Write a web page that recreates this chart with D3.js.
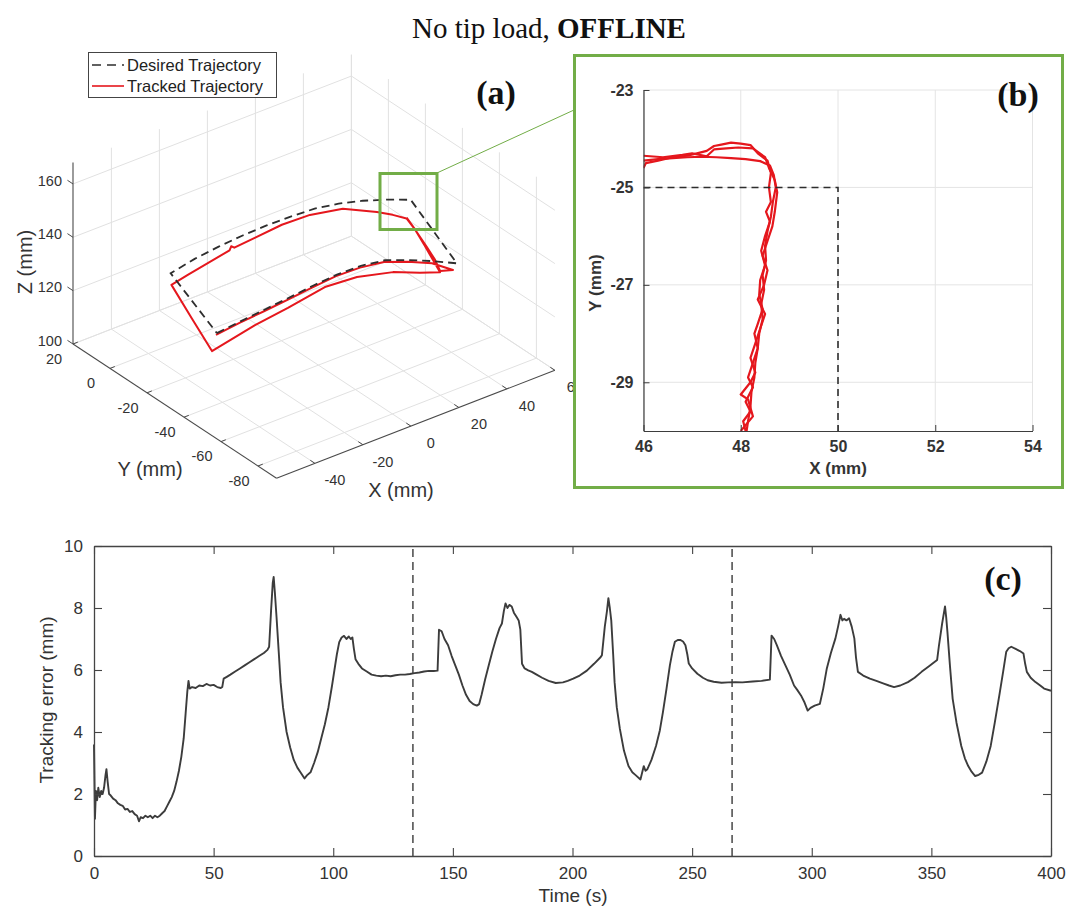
<!DOCTYPE html>
<html>
<head>
<meta charset="utf-8">
<script src="https://cdn.jsdelivr.net/npm/d3@7"></script>
<style>
  body { margin: 0; background: #ffffff; }
  svg { display: block; }
  text { font-family: "Liberation Sans", Arial, Helvetica, sans-serif; }
  .serif { font-family: "Liberation Serif", "Times New Roman", serif; }
</style>
</head>
<body>
<svg id="fig" width="1067" height="912"></svg>
<script>
// ---------------- data ----------------

// (a) 3-D trajectories, mm. Desired path: rectangle on an arched surface,
// bottom edge (Y = -50) left to right, right edge, top edge (Y = -25) back, left edge.
const desiredX = [-50, -40, -30, -20, -10, 0, 10, 20, 30, 40, 50,
                  50, 40, 30, 20, 10, 0, -10, -20, -30, -40, -50, -50];
const desiredY = [-50, -50, -50, -50, -50, -50, -50, -50, -50, -50, -50,
                  -25, -25, -25, -25, -25, -25, -25, -25, -25, -25, -25, -50];
const desiredZ = [134, 135, 135.9, 136.8, 137.8, 138.5, 138.3, 136.9, 133.5, 129.6, 125.3,
                  137.7, 141.2, 144.3, 146.7, 148.3, 148.8, 149, 148.7, 148, 146.9, 145, 134];

// Tracked path: first pass along the bottom edge, right edge up, top edge,
// left edge down, second bottom pass and the climb of the right edge again.
const trackedX = [-50, -40, -30, -20, -10, 0, 10, 20, 30, 40, 48.75,
                  45.3, 46.3, 47.5, 48.1, 48.6,
                  43, 36.4, 22.2, 8.5, -3.2, -14.5, -23, -24, -25, -42.4, -49.2,
                  -49.7, -49.75,
                  -31.8, -18.1, -2.7, 10.7, 25.7, 36.9, 45.3,
                  46.1, 47.3, 48.3, 48.7];
const trackedY = [-49.5, -49.5, -49.5, -49.5, -49.5, -49.5, -49.5, -49.5, -49.5, -49.5, -49.5,
                  -47, -43, -37, -30, -24.6,
                  -24.4, -24.4, -24.4, -24.4, -24.4, -24.4, -24.4, -24.0, -24.4, -24.4, -24.4,
                  -36, -47,
                  -47, -47, -47, -47, -47, -47, -47,
                  -42, -36, -29, -24.5];
const trackedZ = [133.1, 134.2, 135.0, 135.9, 136.9, 137.7, 137.4, 136.0, 132.6, 128.6, 123.0,
                  122.7, 124.7, 126.3, 129.3, 131.0,
                  134.2, 137.6, 143.7, 146.2, 146.6, 145.6, 144.9, 145.6, 144.6, 141.5, 140.1,
                  133.1, 125.8,
                  129.3, 131.0, 133.4, 132.5, 129.1, 125.0, 122.2,
                  124.4, 126.6, 129.6, 131.2];

const ticks3dX = [-40, -20, 0, 20, 40, 60];
const ticks3dY = [20, 0, -20, -40, -60, -80];
const ticks3dZ = [100, 120, 140, 160];

// (b) close-up of the corner in the X-Y plane, mm
const zoomDesiredX = [46, 50, 50];
const zoomDesiredY = [-25, -25, -30];
const zoomTrackX1 = [46.0, 46.3, 46.6, 46.9, 47.2, 47.5, 47.8, 48.1, 48.4, 48.6, 48.68, 48.72, 48.66, 48.62,
                     48.55, 48.5, 48.52, 48.45, 48.48, 48.42, 48.45, 48.38, 48.35, 48.3, 48.28, 48.22, 48.2, 48.15, 48.12];
const zoomTrackY1 = [-24.45, -24.42, -24.4, -24.38, -24.37, -24.38, -24.4, -24.42, -24.46, -24.55, -24.75, -25.0, -25.3, -25.6,
                     -25.9, -26.2, -26.5, -26.8, -27.1, -27.4, -27.7, -28.0, -28.3, -28.6, -28.9, -29.2, -29.5, -29.8, -30.0];
const zoomTrackX2 = [46.0, 46.05, 46.3, 46.6, 46.9, 47.1, 47.3, 47.45, 47.6, 47.8, 48.0, 48.2, 48.35, 48.55, 48.62,
                     48.58, 48.62, 48.52, 48.6, 48.5, 48.42, 48.5, 48.4, 48.38, 48.45, 48.35, 48.28, 48.35, 48.25,
                     48.15, 48.25, 48.1, 48.2, 48.05, 48.1];
const zoomTrackY2 = [-24.6, -24.5, -24.45, -24.38, -24.35, -24.3, -24.25, -24.15, -24.12, -24.08, -24.1, -24.13, -24.3, -24.45, -24.7,
                     -25.0, -25.3, -25.5, -25.7, -26.0, -26.3, -26.6, -26.9, -27.2, -27.5, -27.8, -28.0, -28.3, -28.6,
                     -28.9, -29.1, -29.4, -29.6, -29.8, -30.0];
const zoomTrackX3 = [46.0, 46.4, 46.8, 47.0, 47.3, 47.45, 47.7, 47.95, 48.25, 48.5, 48.58, 48.7, 48.75, 48.7,
                     48.65, 48.55, 48.45, 48.55, 48.48, 48.35, 48.5, 48.4, 48.3, 48.2, 48.3, 48.2, 48.0, 48.15, 48.25, 48.0];
const zoomTrackY3 = [-24.35, -24.38, -24.33, -24.3, -24.36, -24.22, -24.2, -24.18, -24.2, -24.38, -24.6, -24.85, -25.1, -25.5,
                     -25.8, -26.1, -26.4, -26.7, -27.0, -27.3, -27.6, -27.9, -28.2, -28.5, -28.8, -29.0, -29.25, -29.35, -29.7, -30.0];
const zoomTicksX = [46, 48, 50, 52, 54];
const zoomTicksY = [-23, -25, -27, -29];

// (c) tracking error over three laps
const timeS = [0, 0.4, 0.8, 1.3, 1.8, 2.4, 3.0, 3.6, 4.2, 4.8, 5.2, 5.7, 6.3, 7, 8, 9, 10, 11, 12, 13, 14, 15, 16, 17, 18,
  18.8, 19.5, 20.5, 21.5, 22.5, 23.5, 24.5, 25.5, 26.5, 27.5, 28.5, 29.5, 30.5, 31.5, 32.5, 33.5, 34.5, 35.5, 36.5,
  37.5, 38.3, 39, 39.5, 40, 41, 42.5, 44, 45.5, 47, 48.5, 50, 51.5, 53, 53.6, 54.2, 55.5, 57, 59, 61, 63, 65, 67, 69,
  71, 72.5, 73.2, 74, 74.7, 75.1, 75.6, 76.3, 77.2, 78, 79, 80.5, 82, 83.5, 85, 86.5, 88, 89, 90.5, 92, 93.5, 95, 96.5,
  98, 99.5, 100.5, 101.5, 102.5, 103.5, 104.5, 105.5, 106.5, 107.3, 108, 108.6, 109.3, 110.5, 112, 114, 116, 118, 120,
  122, 124, 126, 128, 130, 132, 134, 136, 138, 140, 142, 143.6, 144.2, 145.3, 146.5, 148, 149.5, 151, 152.5, 154,
  155.5, 157, 158.5, 160, 161, 162, 163.5, 165, 166.5, 168, 169.5, 170.5, 171.3, 172, 172.8, 173.6, 174.6, 175.5,
  176.7, 177.5, 178.2, 178.9, 180, 181.5, 183, 185, 187.3, 190, 193, 196, 198, 200.3, 203, 206, 209, 211.8, 212.3,
  213.5, 214.4, 215, 215.6, 216.2, 217, 217.6, 218.5, 219.8, 221.5, 223.4, 225, 226.5, 228.4, 229.3, 229.8, 230.5,
  231.3, 233, 234.9, 236.5, 237.8, 239.3, 240.7, 241.8, 242.8, 244, 245, 246.2, 247.2, 248, 248.6, 250, 252.2, 254.5,
  256.5, 259, 262.3, 265, 268.1, 271, 275.3, 279, 282.5, 283.2, 284.3, 285.4, 287.2, 289, 290.8, 292.6, 294, 295.5,
  297, 298.3, 299.5, 301.2, 303.4, 304.8, 306.3, 308, 309.9, 311, 312, 312.8, 313.5, 314.5, 315.6, 316.7, 317.8,
  318.5, 319.3, 321.5, 324.3, 327, 330.1, 332.3, 334.4, 337, 340.2, 343, 345.9, 349, 352.4, 353.1, 354.5, 355.7,
  356.2, 356.7, 357.8, 358.9, 360.5, 362.5, 364, 365.4, 366.8, 368.3, 369.8, 371.2, 373, 374.8, 376.5, 378.4, 380,
  381.3, 382.3, 383.4, 385.2, 387, 388.5, 389.2, 389.9, 391.5, 393.5, 395.5, 397.1, 400];
const errorMm = [3.6, 1.2, 2.1, 1.8, 2.2, 1.9, 2.1, 2.0, 2.2, 2.6, 2.8, 2.4, 2.0, 1.95, 1.85, 1.8, 1.7, 1.65, 1.62, 1.5,
  1.52, 1.42, 1.45, 1.35, 1.3, 1.12, 1.25, 1.22, 1.3, 1.25, 1.3, 1.22, 1.3, 1.25, 1.3, 1.38, 1.45, 1.6, 1.75, 1.9, 2.1,
  2.4, 2.75, 3.2, 3.8, 4.6, 5.3, 5.65, 5.4, 5.45, 5.42, 5.5, 5.48, 5.55, 5.5, 5.52, 5.45, 5.42, 5.45, 5.72, 5.78, 5.85,
  5.95, 6.05, 6.15, 6.25, 6.35, 6.45, 6.55, 6.65, 6.75, 7.9, 8.8, 9.0, 8.5, 7.7, 6.6, 5.6, 4.8, 4.0, 3.5, 3.1, 2.85,
  2.68, 2.5, 2.6, 2.7, 3.0, 3.35, 3.8, 4.25, 4.8, 5.5, 6.0, 6.5, 6.9, 7.05, 7.1, 7.0, 7.08, 7.0, 7.05, 6.7, 6.35, 6.2,
  6.05, 5.95, 5.85, 5.82, 5.8, 5.82, 5.8, 5.83, 5.85, 5.85, 5.87, 5.9, 5.92, 5.95, 5.97, 5.97, 5.98, 7.3, 7.25, 7.0,
  6.8, 6.45, 6.15, 5.85, 5.5, 5.2, 5.0, 4.9, 4.85, 4.9, 5.2, 5.7, 6.15, 6.6, 7.0, 7.35, 7.5, 7.9, 8.15, 8.0, 8.1,
  8.05, 7.85, 7.7, 7.6, 7.3, 6.2, 6.05, 5.99, 5.94, 5.85, 5.75, 5.65, 5.58, 5.6, 5.65, 5.72, 5.82, 5.98, 6.2, 6.42,
  6.48, 7.4, 7.9, 8.32, 8.0, 7.6, 6.5, 5.6, 4.8, 4.1, 3.4, 2.9, 2.7, 2.6, 2.47, 2.75, 2.9, 2.75, 2.8, 3.1, 3.55, 4.05,
  4.64, 5.4, 6.15, 6.6, 6.91, 6.97, 6.97, 6.92, 6.8, 6.5, 6.21, 6.05, 5.88, 5.75, 5.67, 5.62, 5.59, 5.6, 5.61, 5.6,
  5.63, 5.65, 5.69, 7.11, 7.0, 6.8, 6.45, 6.15, 5.85, 5.5, 5.35, 5.18, 4.95, 4.69, 4.78, 4.85, 4.91, 5.4, 6.05, 6.55,
  7.02, 7.4, 7.78, 7.6, 7.65, 7.6, 7.67, 7.4, 7.02, 6.4, 5.94, 5.82, 5.72, 5.65, 5.56, 5.5, 5.45, 5.5, 5.61, 5.75,
  5.94, 6.12, 6.32, 6.75, 7.5, 8.05, 7.7, 7.24, 6.1, 5.07, 4.3, 3.55, 3.15, 2.9, 2.72, 2.58, 2.62, 2.69, 3.05, 3.55,
  4.3, 5.18, 5.95, 6.59, 6.7, 6.75, 6.68, 6.61, 6.53, 6.2, 5.94, 5.75, 5.61, 5.5, 5.4, 5.33];
const lapBoundaries = [133.3, 266.7];
const timeTicks = [0, 50, 100, 150, 200, 250, 300, 350, 400];
const errorTicks = [0, 2, 4, 6, 8, 10];

// ---------------- drawing ----------------
const svg = d3.select("#fig");
const INK = "#333333";
const RED = "#e5171d";
const GREEN = "#72ad47";
const plain = d => String(d);

// title
const title = svg.append("text").attr("class", "serif")
  .attr("x", 549).attr("y", 38).attr("text-anchor", "middle")
  .attr("font-size", 29).attr("fill", "#111");
title.append("tspan").text("No tip load, ");
title.append("tspan").attr("font-weight", "bold").text("OFFLINE");

// ---- (a) 3-D view, orthographic projection of the data box ----
const xT = d3.scaleLinear().domain([-56, 60]).range([0, 1]);
const yT = d3.scaleLinear().domain([20, -90]).range([0, 1]);
const zT = d3.scaleLinear().domain([100, 168]).range([0, 1]);
const origin = [73, 344], xVec = [278.4, -107.9], yVec = [203.5, 134.2], zLen = 181.4;
function proj(x, y, z) {
  const a = xT(x), b = yT(y), c = zT(z);
  return [origin[0] + a * xVec[0] + b * yVec[0], origin[1] + a * xVec[1] + b * yVec[1] - c * zLen];
}
const [xMin, xMax] = xT.domain();
const [yMax, yMin] = yT.domain();
const [zMin, zMax] = zT.domain();

const gA = svg.append("g");
const seg = (g, p, q, stroke, w) => g.append("line")
  .attr("x1", p[0]).attr("y1", p[1]).attr("x2", q[0]).attr("y2", q[1])
  .attr("stroke", stroke).attr("stroke-width", w);

const grid = gA.append("g");
const GRID = "#e1e1e1";
// back wall at Y = max
ticks3dX.forEach(x => seg(grid, proj(x, yMax, zMin), proj(x, yMax, zMax), GRID, 1));
ticks3dZ.forEach(z => seg(grid, proj(xMin, yMax, z), proj(xMax, yMax, z), GRID, 1));
// side wall at X = max
ticks3dY.forEach(y => seg(grid, proj(xMax, y, zMin), proj(xMax, y, zMax), GRID, 1));
ticks3dZ.forEach(z => seg(grid, proj(xMax, yMax, z), proj(xMax, yMin, z), GRID, 1));
// floor
ticks3dX.forEach(x => seg(grid, proj(x, yMax, zMin), proj(x, yMin, zMin), GRID, 1));
ticks3dY.forEach(y => seg(grid, proj(xMin, y, zMin), proj(xMax, y, zMin), GRID, 1));

// axis lines
const AX = "#4a4a4a";
seg(gA, proj(xMin, yMax, zMin), proj(xMin, yMax, zMax), AX, 1.1);
seg(gA, proj(xMin, yMax, zMin), proj(xMin, yMin, zMin), AX, 1.1);
seg(gA, proj(xMin, yMin, zMin), proj(xMax, yMin, zMin), AX, 1.1);

// ticks and labels
ticks3dZ.forEach(z => {
  const p = proj(xMin, yMax, z), q = proj(xMin, yMax + 3, z);
  seg(gA, p, q, AX, 1);
  gA.append("text").attr("x", p[0] - 11).attr("y", p[1] - 2)
    .attr("text-anchor", "end").attr("dominant-baseline", "middle")
    .attr("font-size", 14.5).attr("fill", INK).text(z);
});
ticks3dY.forEach(y => {
  const p = proj(xMin, y, zMin), q = proj(xMin + 2, y, zMin);
  seg(gA, p, q, AX, 1);
  gA.append("text").attr("x", p[0] - 19).attr("y", p[1] + 16)
    .attr("text-anchor", "middle").attr("dominant-baseline", "middle")
    .attr("font-size", 14.5).attr("fill", INK).text(y);
});
ticks3dX.forEach(x => {
  const p = proj(x, yMin, zMin), q = proj(x, yMin + 2.5, zMin);
  seg(gA, p, q, AX, 1);
  gA.append("text").attr("x", p[0] + 20).attr("y", p[1] + 18)
    .attr("text-anchor", "middle").attr("dominant-baseline", "middle")
    .attr("font-size", 14.5).attr("fill", INK).text(x);
});
gA.append("text").attr("transform", "translate(27,262) rotate(-90)")
  .attr("text-anchor", "middle").attr("dominant-baseline", "middle")
  .attr("font-size", 20).attr("fill", INK).text("Z (mm)");
gA.append("text").attr("x", 150).attr("y", 471).attr("text-anchor", "middle")
  .attr("dominant-baseline", "middle").attr("font-size", 20).attr("fill", INK).text("Y (mm)");
gA.append("text").attr("x", 401).attr("y", 492).attr("text-anchor", "middle")
  .attr("dominant-baseline", "middle").attr("font-size", 20).attr("fill", INK).text("X (mm)");

// trajectories
const line3d = d3.line().x(d => d[0]).y(d => d[1]);
const desiredPts = desiredX.map((x, i) => proj(x, desiredY[i], desiredZ[i]));
const trackedPts = trackedX.map((x, i) => proj(x, trackedY[i], trackedZ[i]));
gA.append("path").attr("d", line3d(trackedPts)).attr("fill", "none")
  .attr("stroke", RED).attr("stroke-width", 2).attr("stroke-linejoin", "round");
gA.append("path").attr("d", line3d(desiredPts)).attr("fill", "none")
  .attr("stroke", "#2e2e2e").attr("stroke-width", 1.8).attr("stroke-dasharray", "8,5");

// legend
const leg = gA.append("g");
leg.append("rect").attr("x", 88.5).attr("y", 52.5).attr("width", 188).attr("height", 45)
  .attr("fill", "#fff").attr("stroke", "#444").attr("stroke-width", 1);
leg.append("line").attr("x1", 92).attr("x2", 124).attr("y1", 65).attr("y2", 65)
  .attr("stroke", "#2e2e2e").attr("stroke-width", 1.6).attr("stroke-dasharray", "9,6");
leg.append("line").attr("x1", 92).attr("x2", 124).attr("y1", 86).attr("y2", 86)
  .attr("stroke", RED).attr("stroke-width", 1.6);
leg.append("text").attr("x", 127).attr("y", 71).attr("font-size", 16.5).attr("fill", "#222").text("Desired Trajectory");
leg.append("text").attr("x", 127).attr("y", 92).attr("font-size", 16.5).attr("fill", "#222").text("Tracked Trajectory");

// highlight of the zoomed corner and connector
gA.append("rect").attr("x", 380).attr("y", 173.5).attr("width", 57).attr("height", 56)
  .attr("fill", "none").attr("stroke", GREEN).attr("stroke-width", 3);
gA.append("line").attr("x1", 438).attr("y1", 172.5).attr("x2", 574).attr("y2", 110)
  .attr("stroke", GREEN).attr("stroke-width", 1);
gA.append("text").attr("class", "serif").attr("x", 496).attr("y", 104)
  .attr("text-anchor", "middle").attr("font-size", 34).attr("font-weight", "bold")
  .attr("fill", "#111").text("(a)");

// ---- (b) close-up ----
const gB = svg.append("g");
gB.append("rect").attr("x", 574.5).attr("y", 55.5).attr("width", 488).attr("height", 432)
  .attr("fill", "#fff").attr("stroke", GREEN).attr("stroke-width", 3);
const xb = d3.scaleLinear().domain([46, 54]).range([643.5, 1032.5]);
const yb = d3.scaleLinear().domain([-30, -23]).range([431, 90]);
const gridB = gB.append("g");
zoomTicksX.forEach(v => gridB.append("line").attr("x1", xb(v)).attr("x2", xb(v))
  .attr("y1", yb(-30)).attr("y2", yb(-23)).attr("stroke", "#e4e4e4"));
zoomTicksY.forEach(v => gridB.append("line").attr("y1", yb(v)).attr("y2", yb(v))
  .attr("x1", xb(46)).attr("x2", xb(54)).attr("stroke", "#e4e4e4"));

const lineB = d3.line().x(d => xb(d[0])).y(d => yb(d[1]));
const clipB = gB.append("clipPath").attr("id", "clipB");
clipB.append("rect").attr("x", xb(46)).attr("y", yb(-23)).attr("width", xb(54) - xb(46)).attr("height", yb(-30) - yb(-23));
const plotB = gB.append("g").attr("clip-path", "url(#clipB)");
[[zoomTrackX1, zoomTrackY1], [zoomTrackX2, zoomTrackY2], [zoomTrackX3, zoomTrackY3]].forEach(([xs, ys]) => {
  plotB.append("path").attr("d", lineB(xs.map((x, i) => [x, ys[i]]))).attr("fill", "none")
    .attr("stroke", RED).attr("stroke-width", 2.2).attr("stroke-linejoin", "round");
});
plotB.append("path").attr("d", lineB(zoomDesiredX.map((x, i) => [x, zoomDesiredY[i]])))
  .attr("fill", "none").attr("stroke", "#2e2e2e").attr("stroke-width", 1.6).attr("stroke-dasharray", "7,5");

const axBx = gB.append("g").attr("transform", `translate(0,${yb(-30)})`)
  .call(d3.axisBottom(xb).tickValues(zoomTicksX).tickFormat(plain).tickSizeInner(-6).tickSizeOuter(0).tickPadding(10));
const axBy = gB.append("g").attr("transform", `translate(${xb(46)},0)`)
  .call(d3.axisLeft(yb).tickValues(zoomTicksY).tickFormat(plain).tickSizeInner(-6).tickSizeOuter(0).tickPadding(10));
[axBx, axBy].forEach(a => {
  a.select(".domain").attr("stroke", "#3d3d3d").attr("stroke-width", 1.2);
  a.selectAll(".tick line").attr("stroke", "#3d3d3d");
  a.selectAll(".tick text").attr("font-size", 16).attr("font-weight", "bold").attr("fill", INK)
    .attr("font-family", "Liberation Sans, Arial, sans-serif");
});
gB.append("text").attr("x", 838).attr("y", 470).attr("text-anchor", "middle")
  .attr("dominant-baseline", "middle").attr("font-size", 17).attr("font-weight", "bold")
  .attr("fill", INK).text("X (mm)");
gB.append("text").attr("transform", "translate(597,283) rotate(-90)").attr("text-anchor", "middle")
  .attr("dominant-baseline", "middle").attr("font-size", 17).attr("font-weight", "bold")
  .attr("fill", INK).text("Y (mm)");
gB.append("text").attr("class", "serif").attr("x", 1018).attr("y", 106).attr("text-anchor", "middle")
  .attr("font-size", 34).attr("font-weight", "bold").attr("fill", "#111").text("(b)");

// ---- (c) tracking error ----
const gC = svg.append("g");
const xc = d3.scaleLinear().domain([0, 400]).range([94, 1051]);
const yc = d3.scaleLinear().domain([0, 10]).range([856, 546]);

lapBoundaries.forEach(t => gC.append("line").attr("x1", xc(t)).attr("x2", xc(t))
  .attr("y1", yc(0)).attr("y2", yc(10)).attr("stroke", "#3a3a3a")
  .attr("stroke-width", 1.4).attr("stroke-dasharray", "8,5"));

const lineC = d3.line().x((d, i) => xc(timeS[i])).y(d => yc(d));
gC.append("path").attr("d", lineC(errorMm)).attr("fill", "none")
  .attr("stroke", "#3c3c3c").attr("stroke-width", 1.9).attr("stroke-linejoin", "round");

const axC = [
  gC.append("g").attr("transform", `translate(0,${yc(0)})`)
    .call(d3.axisBottom(xc).tickValues(timeTicks).tickFormat(plain).tickSizeInner(-8).tickSizeOuter(0).tickPadding(11)),
  gC.append("g").attr("transform", `translate(0,${yc(10)})`)
    .call(d3.axisTop(xc).tickValues(timeTicks).tickSizeInner(-8).tickSizeOuter(0).tickFormat("")),
  gC.append("g").attr("transform", `translate(${xc(0)},0)`)
    .call(d3.axisLeft(yc).tickValues(errorTicks).tickFormat(plain).tickSizeInner(-8).tickSizeOuter(0).tickPadding(11)),
  gC.append("g").attr("transform", `translate(${xc(400)},0)`)
    .call(d3.axisRight(yc).tickValues(errorTicks).tickSizeInner(-8).tickSizeOuter(0).tickFormat(""))
];
axC.forEach(a => {
  a.select(".domain").attr("stroke", "#444").attr("stroke-width", 1.3);
  a.selectAll(".tick line").attr("stroke", "#444").attr("stroke-width", 1.1);
  a.selectAll(".tick text").attr("font-size", 17).attr("fill", INK)
    .attr("font-family", "Liberation Sans, Arial, sans-serif");
});
gC.append("text").attr("x", 573).attr("y", 897).attr("text-anchor", "middle")
  .attr("dominant-baseline", "middle").attr("font-size", 19).attr("fill", INK).text("Time (s)");
gC.append("text").attr("transform", "translate(48,700) rotate(-90)").attr("text-anchor", "middle")
  .attr("dominant-baseline", "middle").attr("font-size", 19).attr("fill", INK).text("Tracking error (mm)");
gC.append("text").attr("class", "serif").attr("x", 1003).attr("y", 590).attr("text-anchor", "middle")
  .attr("font-size", 34).attr("font-weight", "bold").attr("fill", "#111").text("(c)");
</script>
</body>
</html>
